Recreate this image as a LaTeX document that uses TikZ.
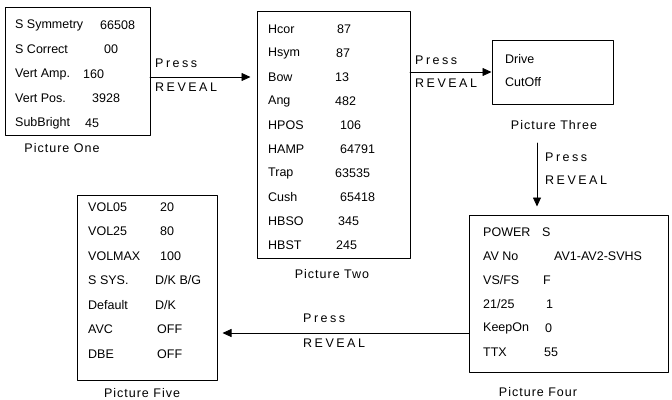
\documentclass[tikz,border=0pt]{standalone}
\usepackage{fontspec}
\setmainfont{Liberation Sans}
\newfontfamily\spaced[LetterSpace=20]{Liberation Sans}
\newfontfamily\titled[LetterSpace=8]{Liberation Sans}
\usetikzlibrary{arrows.meta,positioning}
\tikzset{
  box/.style={draw,line width=1pt,inner sep=0pt},
  item/.style={anchor=west,inner sep=0pt},
  caption/.style={inner sep=0pt,font=\titled\fontsize{12.5}{14}\selectfont},
  step label/.style={anchor=west,inner sep=0pt,font=\spaced\fontsize{12.5}{14}\selectfont},
  link/.style={->,line width=0.8pt},
}
\begin{document}
\begin{tikzpicture}[x=1pt,y=-1pt,>={Triangle[length=9pt,width=8pt]}, font=\fontsize{12.5}{14}\selectfont, line join=round, line cap=round]
\useasboundingbox (0,0) rectangle (672,399);
% the five menu pages
\node[box,minimum width=145pt,minimum height=128pt] (one) at (77.5,71) {};
\node[box,minimum width=153pt,minimum height=247pt] (two) at (333.5,134.5) {};
\node[box,minimum width=121pt,minimum height=64pt] (three) at (552.5,72) {};
\node[box,minimum width=199pt,minimum height=157pt] (four) at (568.5,293.5) {};
\node[box,minimum width=140pt,minimum height=185pt] (five) at (147,287.5) {};
% page captions
\node[caption] (capone) at (62,148) {Picture One};
\node[caption] (captwo) at (332,274) {Picture Two};
\node[caption] (capthree) at (554,125) {Picture Three};
\node[caption] (capfour) at (538,392) {Picture Four};
\node[caption] (capfive) at (142,393) {Picture Five};
% page contents
\foreach \k/\v/\vx [count=\i] in {S Symmetry/66508/100,S Correct/00/104,Vert Amp./160/83,Vert Pos./3928/92,SubBright/45/85}
  {\node[item] (onek\i) at (15,{25+24.5*(\i-1)}) {\k}; \node[item] (onev\i) at (\vx,{25+24.5*(\i-1)}) {\v};}
\foreach \k/\v/\vx [count=\i] in {Hcor/87/337,Hsym/87/336,Bow/13/335,Ang/482/335,HPOS/106/340,HAMP/64791/340,Trap/63535/335,Cush/65418/340,HBSO/345/338,HBST/245/336}
  {\node[item] (twok\i) at (268,{29+24*(\i-1)}) {\k}; \node[item] (twov\i) at (\vx,{29+24*(\i-1)}) {\v};}
\foreach \k [count=\i] in {Drive,CutOff}
  \node[item] (threek\i) at (505,{59+23*(\i-1)}) {\k};
\foreach \k/\v/\vx [count=\i] in {POWER/S/542,AV No/AV1-AV2-SVHS/554,{VS/FS}/F/543,{21/25}/1/546,KeepOn/0/545,TTX/55/544}
  {\node[item] (fourk\i) at (483,{232+24*(\i-1)}) {\k}; \node[item] (fourv\i) at (\vx,{232+24*(\i-1)}) {\v};}
\foreach \k/\v/\vx [count=\i] in {VOL05/20/160,VOL25/80/160,VOLMAX/100/160,S SYS./{D/K B/G}/155,Default/{D/K}/155,AVC/OFF/157,DBE/OFF/157}
  {\node[item] (fivek\i) at (88,{207+24.5*(\i-1)}) {\k}; \node[item] (fivev\i) at (\vx,{207+24.5*(\i-1)}) {\v};}
% REVEAL steps
\coordinate (s1) at (150,77);
\coordinate (s2) at (410,72);
\coordinate (s3) at (537,143);
\coordinate (s4) at (469,333);
\draw[link,shorten >=6pt] (s1) -- (s1 -| two.west);
\draw[link] (s2) -- (s2 -| three.west);
\draw[link,shorten >=8pt] (s3) -- (s3 |- four.north);
\draw[link,shorten >=5pt] (s4) -- (s4 -| five.east);
\node[step label] (press1) at (155,63) {Press};
\node[step label] (reveal1) at (155,87) {REVEAL};
\node[step label] (press2) at (415,60) {Press};
\node[step label] (reveal2) at (415,83) {REVEAL};
\node[step label] (press3) at (545,157) {Press};
\node[step label] (reveal3) at (545,180) {REVEAL};
\node[step label] (press4) at (303,318) {Press};
\node[step label] (reveal4) at (303,343) {REVEAL};
\end{tikzpicture}
\end{document}
